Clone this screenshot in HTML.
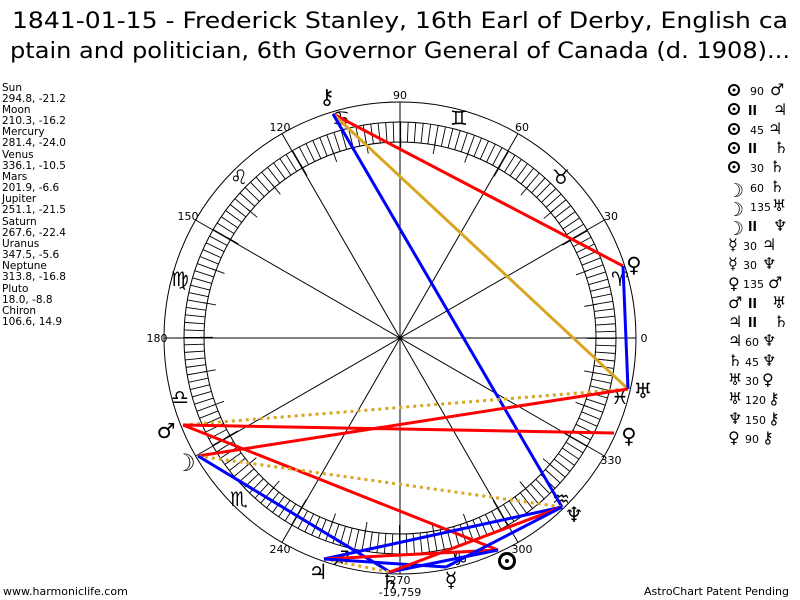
<!DOCTYPE html>
<html><head><meta charset="utf-8"><style>
body{margin:0;background:#fff;width:800px;height:600px;overflow:hidden}
svg{display:block}
text{font-family:"DejaVu Sans","Liberation Sans",sans-serif;fill:#000}
</style></head><body>
<svg width="800" height="600" viewBox="0 0 800 600" xmlns="http://www.w3.org/2000/svg">
<rect width="800" height="600" fill="#fff"/>
<text x="400" y="28" font-size="22" text-anchor="middle" textLength="776" lengthAdjust="spacingAndGlyphs">1841-01-15 - Frederick Stanley, 16th Earl of Derby, English ca</text>
<text x="400" y="58" font-size="22" text-anchor="middle" textLength="780" lengthAdjust="spacingAndGlyphs">ptain and politician, 6th Governor General of Canada (d. 1908)...</text>

<g font-size="10.5" fill="#000">
<text x="2" y="91">Sun</text><text x="2" y="102">294.8, -21.2</text>
<text x="2" y="113">Moon</text><text x="2" y="124">210.3, -16.2</text>
<text x="2" y="135">Mercury</text><text x="2" y="146">281.4, -24.0</text>
<text x="2" y="158">Venus</text><text x="2" y="169">336.1, -10.5</text>
<text x="2" y="180">Mars</text><text x="2" y="191">201.9, -6.6</text>
<text x="2" y="202">Jupiter</text><text x="2" y="213">251.1, -21.5</text>
<text x="2" y="225">Saturn</text><text x="2" y="236">267.6, -22.4</text>
<text x="2" y="247">Uranus</text><text x="2" y="258">347.5, -5.6</text>
<text x="2" y="269">Neptune</text><text x="2" y="280">313.8, -16.8</text>
<text x="2" y="292">Pluto</text><text x="2" y="303">18.0, -8.8</text>
<text x="2" y="314">Chiron</text><text x="2" y="325">106.6, 14.9</text>
</g>

<!-- legend suns as shapes -->
<g fill="none" stroke="#000" stroke-width="2">
<circle cx="734" cy="90" r="5"/><circle cx="734" cy="109" r="5"/><circle cx="734" cy="129" r="5"/>
<circle cx="734" cy="148" r="5"/><circle cx="734" cy="167" r="5"/>
</g>
<g fill="#000">
<circle cx="734" cy="90" r="1.5"/><circle cx="734" cy="109" r="1.5"/><circle cx="734" cy="129" r="1.5"/>
<circle cx="734" cy="148" r="1.5"/><circle cx="734" cy="167" r="1.5"/>
</g>
<g font-size="16" font-weight="bold">
<text x="770" y="95">♂</text>
<text x="748" y="115" font-size="13">ll</text><text x="773" y="115">♃</text>
<text x="750" y="134" font-size="11" font-weight="normal">45</text><text x="768" y="134">♃</text>
<text x="748" y="153" font-size="13">ll</text><text x="774" y="153">♄</text>
<text x="750" y="172" font-size="11" font-weight="normal">30</text><text x="770" y="172">♄</text>
<text x="750" y="95" font-size="11" font-weight="normal">90</text>
<text x="727" y="197" font-size="19">☽</text><text x="750" y="192" font-size="11" font-weight="normal">60</text><text x="770" y="192">♄</text>
<text x="727" y="216" font-size="19">☽</text><text x="750" y="211" font-size="11" font-weight="normal">135</text><text x="772" y="211">♅</text>
<text x="727" y="235" font-size="19">☽</text><text x="748" y="231" font-size="13">ll</text><text x="773" y="231">♆</text>
<text x="728" y="250">☿</text><text x="743" y="250" font-size="11" font-weight="normal">30</text><text x="762" y="250">♃</text>
<text x="728" y="269">☿</text><text x="743" y="269" font-size="11" font-weight="normal">30</text><text x="762" y="269">♆</text>
<text x="728" y="289">♀</text><text x="743" y="288" font-size="11" font-weight="normal">135</text><text x="768" y="288">♂</text>
<text x="728" y="308">♂</text><text x="748" y="308" font-size="13">ll</text><text x="772" y="308">♅</text>
<text x="728" y="327">♃</text><text x="748" y="327" font-size="13">ll</text><text x="774" y="327">♄</text>
<text x="728" y="346">♃</text><text x="745" y="346" font-size="11" font-weight="normal">60</text><text x="762" y="346">♆</text>
<text x="728" y="366">♄</text><text x="745" y="366" font-size="11" font-weight="normal">45</text><text x="762" y="366">♆</text>
<text x="728" y="385">♅</text><text x="745" y="385" font-size="11" font-weight="normal">30</text><text x="762" y="385">♀</text>
<text x="728" y="404">♅</text><text x="745" y="404" font-size="11" font-weight="normal">120</text><text x="768" y="404">⚷</text>
<text x="728" y="424">♆</text><text x="745" y="424" font-size="11" font-weight="normal">150</text><text x="768" y="424">⚷</text>
<text x="728" y="443">♀</text><text x="745" y="443" font-size="11" font-weight="normal">90</text><text x="762" y="443">⚷</text>
</g>

<!-- wheel -->
<g fill="none" stroke="#000" stroke-width="1">
<circle cx="400" cy="338" r="236"/>
<circle cx="400" cy="338" r="216"/>
<circle cx="400" cy="338" r="196"/>
<circle cx="400" cy="338" r="206" stroke-width="20" stroke-dasharray="0.9 6.29"/>
<circle cx="400" cy="338" r="193.5" stroke-width="13" stroke-dasharray="0.9 32.87"/>
<line x1="164" y1="338" x2="636" y2="338"/>
<line x1="604.4" y1="220" x2="195.6" y2="456"/>
<line x1="518" y1="133.6" x2="282" y2="542.4"/>
<line x1="400" y1="102" x2="400" y2="574"/>
<line x1="282" y1="133.6" x2="518" y2="542.4"/>
<line x1="195.6" y1="220" x2="604.4" y2="456"/>
</g>

<g font-size="11" text-anchor="middle">
<text x="644" y="342">0</text><text x="611" y="220">30</text><text x="522" y="131">60</text>
<text x="400" y="99">90</text><text x="280" y="131">120</text><text x="188" y="220">150</text>
<text x="157" y="342">180</text><text x="280" y="553">240</text><text x="400" y="584">270</text>
<text x="522" y="553">300</text><text x="611" y="464">330</text>
<text x="400" y="596">-19,759</text>
</g>

<g font-size="20" text-anchor="middle" font-weight="bold">
<text x="620" y="286">♈</text><text x="561" y="184">♉</text><text x="459" y="125">♊</text>
<text x="341" y="125">♋</text><text x="239" y="184">♌</text><text x="180" y="286">♍</text>
<text x="180" y="404">♎</text><text x="239" y="506">♏</text><text x="341" y="565">♐</text>
<text x="459" y="565">♑</text><text x="561" y="506">♒</text><text x="620" y="404">♓</text>
</g>

<!-- aspects -->
<g stroke-width="3" fill="none">
<line x1="333" y1="114" x2="623" y2="266" stroke="#f00"/>
<line x1="333" y1="114" x2="628" y2="389" stroke="#daa520"/>
<line x1="333" y1="114" x2="562" y2="507" stroke="#00f"/>
<line x1="623" y1="266" x2="628" y2="389" stroke="#00f"/>
<line x1="183" y1="425" x2="628" y2="389" stroke="#daa520" stroke-dasharray="3 4"/>
<line x1="183" y1="425" x2="614" y2="433" stroke="#f00"/>
<line x1="183" y1="425" x2="498" y2="550" stroke="#f00"/>
<line x1="198" y1="456" x2="628" y2="389" stroke="#f00"/>
<line x1="198" y1="456" x2="562" y2="507" stroke="#daa520" stroke-dasharray="3 4"/>
<line x1="198" y1="456" x2="390" y2="572" stroke="#00f"/>
<line x1="324" y1="559" x2="562" y2="507" stroke="#00f"/>
<line x1="324" y1="559" x2="498" y2="550" stroke="#f00"/>
<line x1="324" y1="559" x2="390" y2="572" stroke="#daa520" stroke-dasharray="3 4"/>
<line x1="324" y1="559" x2="446" y2="567" stroke="#00f"/>
<line x1="390" y1="572" x2="498" y2="550" stroke="#00f"/>
<line x1="390" y1="572" x2="562" y2="507" stroke="#f00"/>
<line x1="446" y1="567" x2="562" y2="507" stroke="#00f"/>
</g>

<!-- planet glyphs -->
<circle cx="507" cy="561" r="7.5" fill="none" stroke="#000" stroke-width="3"/>
<circle cx="507" cy="561" r="2" fill="#000"/>
<g font-size="21" text-anchor="middle" font-weight="bold">
<text x="327" y="104">⚷</text>
<text x="634" y="272">♀</text>
<text x="643" y="398">♅</text>
<text x="629" y="443">♀</text>
<text x="166" y="438">♂</text>
<text x="185" y="471" font-size="24">☽</text>
<text x="574" y="522">♆</text>
<text x="451" y="587">☿</text>
<text x="390" y="589">♄</text>
<text x="318" y="579">♃</text>
</g>

<text x="3" y="595" font-size="11">www.harmoniclife.com</text>
<text x="789" y="595" font-size="11" text-anchor="end">AstroChart Patent Pending</text>
</svg>
</body></html>
